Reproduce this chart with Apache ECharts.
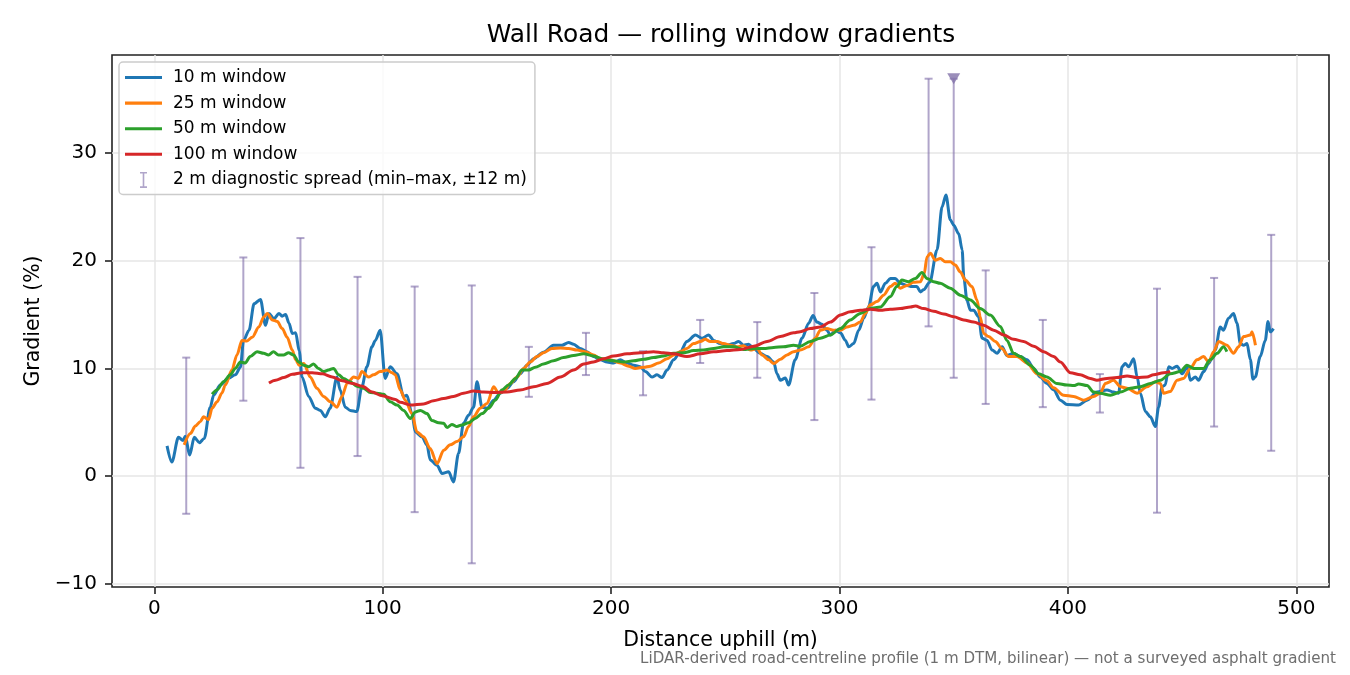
<!DOCTYPE html>
<html>
<head>
<meta charset="utf-8">
<script src="https://cdn.jsdelivr.net/npm/echarts@6/dist/echarts.min.js"></script>
<style>
html,body{margin:0;padding:0;background:#fff;}
#chart{width:1350px;height:675px;}
</style>
</head>
<body>
<div id="chart"></div>
<script>
// ---- data (distance m, gradient %) ----
const win10 = [[5.6,2.8],[7.7,1.3],[10.6,3.6],[12.6,3.3],[13.6,3.7],[15.5,1.95],[17.5,3.6],[19.8,3.1],[21.9,3.5],[24.5,6.4],[26,7.5],[28.9,8.45],[32.5,9.1],[35.5,9.4],[37.7,10.1],[39.1,12.6],[41.5,13.55],[43.7,16.0],[46.5,16.4],[48.7,14.0],[50.2,15.1],[52.4,14.6],[54.6,15.1],[56,14.85],[57.5,15.0],[59,14.2],[60.4,13.25],[61.9,13.3],[63.5,11.6],[64.7,9.2],[67.6,7.4],[70.5,6.3],[72.7,6.1],[74.9,5.5],[77,6.3],[80,9.2],[81.4,8.0],[83.6,6.4],[85.8,6.1],[88.7,6.0],[90.9,8.3],[93.1,10.15],[95.3,12.0],[96.8,12.6],[98.9,13.55],[101.1,9.07],[103.3,10.15],[106.3,9.5],[109.2,7.4],[110.6,7.5],[112.8,5.8],[114.3,4.1],[117.2,3.65],[119.4,2.9],[120.8,1.5],[123.8,1.0],[126,0.25],[128.9,0.4],[131,-0.55],[133.2,2.1],[135.4,4.9],[137.6,5.65],[139.8,6.4],[141.3,8.75],[143.5,6.4],[145.7,6.3],[148.6,7.05],[151.5,7.7],[154.4,8.15],[157.3,8.75],[160.2,9.5],[163.2,10.3],[166.1,10.9],[170.4,11.5],[174.8,12.15],[178.5,12.15],[181.4,12.4],[183.6,12.25],[186.5,11.85],[189.4,11.55],[192.3,11.1],[195.3,10.8],[198.2,10.6],[201.1,10.5],[204,10.8],[207,10.5],[209.9,10.3],[212.8,10.15],[215,9.7],[217.9,9.2],[220.1,9.4],[222.3,9.15],[224.5,9.85],[227.4,10.8],[230.3,11.55],[233.2,12.5],[236.9,13.1],[239.8,12.8],[242.7,13.1],[244.9,12.6],[247.8,12.3],[250.7,12.15],[253.6,12.3],[255.8,12.5],[258,12.15],[260.2,12.25],[262.4,11.85],[265.3,11.4],[268.3,11.1],[271.2,10.6],[272.6,9.5],[274.1,8.9],[276.3,9.1],[277.7,8.45],[280.6,10.8],[283.6,12.8],[286.5,14.2],[288.4,14.9],[290.1,14.3],[292.3,14.1],[294.5,13.55],[296,13.1],[298.2,13.55],[300.4,13.3],[302.6,12.6],[304,12.0],[306.2,12.3],[308.4,13.55],[310.6,14.65],[312.7,15.7],[314.9,17.6],[316.4,17.9],[317.9,17.1],[320.1,17.9],[322.3,18.35],[324.4,18.35],[326.6,17.9],[329.6,17.7],[331.7,17.6],[333.9,17.6],[335.4,17.1],[336.8,17.3],[339.5,18.0],[342.7,21.0],[344.9,25.0],[346.6,26.1],[348.5,23.8],[350,23.3],[352.2,22.5],[353.7,21.0],[354.4,18.5],[355.8,16.3],[357.3,15.4],[358.7,15.4],[360.9,14.8],[362.4,12.8],[364.6,12.6],[366.8,11.7],[369,11.4],[371.2,12.0],[373.3,11.2],[376.2,11.4],[379.2,11.1],[382.1,10.8],[385,10.0],[387.9,9.2],[390.8,8.6],[393.8,8.0],[396.7,7.05],[399.6,6.65],[404.7,6.6],[408.4,7.05],[412.7,7.8],[417.1,8.0],[420,7.8],[422.2,7.7],[423.7,10.15],[425.1,10.45],[426.6,10.15],[428.8,10.9],[430.3,9.2],[431.7,7.7],[433.9,6.0],[436.1,5.5],[438.3,4.6],[439.7,6.4],[441.2,8.3],[442.6,8.45],[444.1,10.15],[445.6,10.0],[447.8,10.2],[450,9.5],[452.2,10.15],[453.6,8.9],[455.8,9.2],[457.2,8.9],[459.4,9.7],[461.6,10.45],[464.5,11.7],[466.7,13.85],[468.1,13.55],[470.3,14.65],[472.5,15.1],[474,14.2],[475.5,12.3],[476.9,12.15],[478.4,12.3],[479.9,10.8],[481,9.0],[482,9.2],[484.2,11.1],[486.4,12.6],[487.6,14.35],[488.6,13.4],[490,13.7]];

const win25 = [[13.1,2.9],[15.8,3.95],[18.0,4.65],[20.1,5.05],[21.6,5.5],[23.8,5.25],[25.3,6.3],[27.5,6.9],[29.6,7.7],[31.1,8.45],[34.0,9.85],[36.2,11.25],[38.4,12.6],[40.6,12.55],[42.9,12.9],[45.8,13.85],[48.0,14.8],[49.5,15.1],[51.7,14.5],[53.9,14.35],[56.0,13.7],[58.2,12.9],[60.4,11.7],[61.9,10.8],[63.4,10.3],[65.5,10.45],[68.3,9.2],[71.2,8.15],[74.1,7.4],[77.1,6.9],[80.0,6.4],[82.2,7.4],[84.4,8.6],[87.3,9.2],[89.4,9.07],[90.9,9.7],[93.8,9.2],[96.0,9.4],[98.9,9.7],[101.9,9.85],[104.1,9.6],[105.5,9.4],[107.7,8.0],[109.9,7.05],[112.8,5.8],[115.0,4.1],[117.9,3.65],[120.8,2.55],[123.8,1.15],[126.7,2.4],[129.6,2.9],[132.5,3.2],[135.4,3.65],[137.6,4.6],[139.8,5.5],[142.7,6.3],[145.7,6.75],[148.6,8.3],[150.7,7.7],[152.9,7.85],[155.9,8.6],[158.8,9.2],[161.7,10.0],[164.6,10.6],[167.6,11.1],[170.4,11.45],[174.1,11.85],[177.8,11.9],[181.4,11.85],[185.1,11.7],[188.7,11.55],[192.3,11.25],[195.3,10.9],[199.6,10.8],[204.0,10.5],[207.7,10.2],[210.6,10.0],[214.2,10.1],[217.2,10.2],[220.8,10.5],[224.5,10.9],[227.4,11.25],[230.3,11.55],[233.2,11.85],[236.1,12.3],[239.1,12.5],[241.2,12.7],[243.4,12.5],[246.4,12.5],[249.3,12.3],[252.2,12.15],[255.1,12.0],[258.0,12.1],[261.0,11.7],[263.9,11.85],[266.1,11.25],[269.0,10.8],[271.2,10.45],[274.1,10.85],[277.0,11.25],[279.9,11.55],[282.8,11.7],[286.5,12.0],[289.4,12.8],[291.6,13.55],[294.5,13.7],[297.4,13.55],[300.4,13.55],[303.3,13.85],[306.2,14.0],[309.1,14.3],[311.3,15.1],[313.5,15.9],[316.4,16.2],[319.3,16.8],[322.3,17.6],[324.4,17.9],[326.6,17.45],[329.6,17.7],[332.4,18.0],[335.4,18.05],[337.1,18.8],[338.3,20.35],[339.8,20.7],[341.9,20.05],[344.1,20.2],[346.3,19.9],[348.5,19.9],[350.7,19.6],[352.9,18.95],[355.1,18.2],[358.0,17.6],[360.2,16.35],[361.6,14.8],[363.1,13.25],[365.3,12.95],[368.2,12.5],[371.1,11.85],[374.0,11.1],[377.7,11.1],[382.1,10.5],[386.5,9.5],[390.8,8.85],[393.7,8.2],[398.1,7.5],[402.5,7.4],[406.9,7.05],[411.3,7.4],[414.2,7.7],[416.4,8.6],[420.0,8.9],[423.0,8.3],[425.9,8.15],[430.3,7.7],[434.6,8.3],[438.3,8.75],[440.5,8.6],[441.9,7.7],[444.8,7.85],[447.8,8.9],[450.6,9.07],[453.6,10.0],[456.5,10.8],[459.4,11.1],[461.6,10.6],[463.8,11.55],[466.0,12.5],[469.6,12.15],[472.5,11.4],[474.7,12.0],[476.9,12.95],[479.9,13.1],[480.6,13.4],[482.1,12.15]];

const win50 = [[25.3,7.6],[27.5,8.0],[30.3,8.75],[33.3,9.4],[35.5,10.0],[37.7,10.6],[39.8,10.5],[42,11.1],[45,11.55],[47.9,11.4],[50,11.25],[52.2,11.55],[54.4,11.25],[56.6,11.25],[58.8,11.45],[61,11.25],[63.2,10.6],[65.4,10.3],[67.6,10.15],[69.7,10.4],[71.9,10.0],[74.1,9.7],[76.3,9.85],[78.5,10.0],[80.7,9.4],[82.9,9.07],[85.8,8.75],[88.7,8.35],[91.6,8.15],[94.6,7.75],[97.5,7.7],[100.4,7.6],[103.3,6.9],[106.3,6.6],[109.2,6.1],[112.1,5.35],[114.3,5.95],[116.5,6.1],[119.4,5.8],[121.6,5.15],[124.5,4.95],[126.7,4.9],[128.2,4.5],[130.3,4.8],[132.5,4.6],[134.7,4.75],[137.6,4.95],[140.5,5.35],[143.5,5.8],[146.4,6.3],[149.3,7.05],[152.2,8.0],[155.1,8.45],[158.1,9.07],[161,9.85],[163.9,9.85],[166.8,10.1],[170.4,10.4],[174.8,10.7],[179.2,11.0],[183.6,11.2],[188,11.35],[192.3,11.15],[196.7,10.85],[201.1,10.7],[205.5,10.6],[209.9,10.7],[214.2,10.85],[218.6,11.0],[223,11.15],[227.4,11.4],[231.7,11.45],[236.1,11.65],[240.5,11.7],[244.9,11.85],[249.3,12.0],[253.6,12.0],[258,11.75],[262.4,11.85],[266.8,11.85],[271.2,11.95],[275.5,12.0],[279.9,12.15],[282.8,12.05],[287.2,12.5],[291.6,12.8],[296,13.1],[300.4,13.7],[304.7,14.5],[309.1,15.1],[313.5,15.55],[317.9,15.7],[322.2,16.65],[325.1,17.6],[327.3,18.2],[330.2,18.05],[333.2,18.35],[336.1,18.9],[338.3,18.35],[341.2,18.05],[344.1,17.9],[348.5,17.45],[352.9,16.8],[357.3,16.35],[361.6,15.55],[366,14.95],[370.4,13.9],[373.3,12.6],[376.2,11.4],[379.2,11.1],[383.5,10.3],[387.2,9.5],[390.8,9.2],[395.2,8.6],[399.6,8.45],[402.6,8.4],[404.7,8.55],[408.4,8.4],[411.3,7.8],[414.2,7.7],[418.6,7.5],[423,7.8],[427.3,8.15],[431.7,8.3],[436.1,8.6],[440.5,8.9],[444.8,9.5],[449.2,9.7],[452.1,10.3],[455,10.0],[459.4,10.0],[462.3,10.8],[465.3,11.4],[468.1,12.0],[469.6,11.55]];

const win100 = [[50.2,8.65],[53.1,8.9],[56.8,9.15],[60.4,9.45],[64.8,9.6],[69.2,9.6],[73.6,9.5],[77.9,9.2],[82.3,8.85],[86.7,8.6],[91.1,8.35],[95.4,7.8],[99.8,7.45],[105.6,7.1],[107.7,6.85],[112.1,6.6],[117.9,6.7],[122.3,7.0],[126.7,7.2],[131,7.4],[135.4,7.7],[139.8,7.9],[144.2,7.8],[148.6,7.75],[154.4,7.8],[160.2,8.0],[166.1,8.3],[171.9,8.6],[177.8,9.2],[183.6,9.85],[188,10.4],[192.3,10.6],[196.7,10.9],[201.1,11.15],[207,11.35],[212.8,11.45],[218.6,11.55],[223,11.45],[227.4,11.35],[233.2,11.1],[239.1,11.35],[244.9,11.55],[250.7,11.65],[256.6,11.75],[262.4,12.05],[268.3,12.5],[274.1,12.95],[279.9,13.3],[282.8,13.4],[287.2,13.7],[291.6,13.85],[296,14.3],[300.4,14.95],[304.7,15.25],[309.1,15.4],[313.5,15.5],[317.9,15.4],[322.2,15.5],[326.6,15.55],[331,15.7],[333.2,15.8],[336.8,15.55],[341.2,15.3],[345.6,15.05],[350,14.8],[354.4,14.5],[358.7,14.3],[363.1,14.0],[367.5,13.55],[371.9,13.1],[376.2,12.7],[380.6,12.5],[385,12.05],[389.4,11.55],[393.7,11.1],[396.7,10.6],[401.1,9.6],[405.4,9.4],[409.8,9.07],[412.7,8.9],[417.1,9.07],[421.5,9.15],[425.9,9.3],[430.3,9.15],[434.6,9.2],[437.5,9.4],[441.9,9.6],[444.8,9.7]];

// 2 m diagnostic spread (min–max within ±12 m)
const spreadX  = [14,39,64,89,114,139,164,189,214,239,264,289,314,339,350,364,389,414,439,464,489];
const spreadLo = [-3.5,7.0,0.77,1.86,-3.35,-8.1,7.36,9.38,7.5,10.5,9.13,5.2,7.1,13.9,9.13,6.7,6.4,5.9,-3.4,4.6,2.35];
const spreadHi = [11.0,20.3,22.1,18.5,17.6,17.7,12.0,13.3,11.6,14.5,14.3,17.0,21.25,36.9,36.9,19.1,14.5,9.47,17.4,18.4,22.4];

// peak marker
const peakX = [350];
const peakY = [36.9];

const xTicks = [0,100,200,300,400,500];
const yTicks = [-10,0,10,20,30];

const seriesNames = ['10 m window','25 m window','50 m window','100 m window','2 m diagnostic spread (min\u2013max, \u00b112 m)'];
const colors = ['#1f77b4','#ff7f0e','#2ca02c','#d62728'];
const spreadColor = 'rgba(128,110,170,0.62)';
const FONT = '"DejaVu Sans", sans-serif';

const chart = echarts.init(document.getElementById('chart'), null, {renderer:'canvas'});

const lineSeries = [win10, win25, win50, win100].map((d, i) => ({
  name: seriesNames[i],
  type: 'line',
  data: d,
  symbol: 'none',
  showSymbol: false,
  smooth: 0.3,
  smoothMonotone: 'x',
  lineStyle: {color: colors[i], width: 3},
  itemStyle: {color: colors[i]},
  z: 3 + i,
  animation: false
}));

const spreadData = spreadX.map((x, i) => [x, spreadLo[i], spreadHi[i]]);
const lineIcon = 'path://M0,0H40V3.4H0Z';

const option = {
  animation: false,
  backgroundColor: '#fff',
  textStyle: {fontFamily: FONT},
  title: {
    text: 'Wall Road \u2014 rolling window gradients',
    left: 716, top: 18, textAlign: 'center',
    textStyle: {fontFamily: FONT, fontSize: 24.9, fontWeight: 'normal', color: '#000'}
  },
  grid: {
    left: 112, top: 55, width: 1217, height: 532,
    show: true, borderColor: '#222', borderWidth: 1.6, backgroundColor: 'transparent'
  },
  legend: {
    orient: 'vertical', left: 119, top: 62,
    padding: [7, 8, 6, 6],
    itemWidth: 37, itemHeight: 16, itemGap: 8.6,
    selectedMode: false,
    backgroundColor: 'rgba(255,255,255,0.8)',
    borderColor: '#cccccc', borderWidth: 1.5, borderRadius: 4,
    textStyle: {fontFamily: FONT, fontSize: 17, color: '#000', lineHeight: 16, padding: [0,0,0,6]},
    data: [
      {name: seriesNames[0], icon: lineIcon}, {name: seriesNames[1], icon: lineIcon},
      {name: seriesNames[2], icon: lineIcon}, {name: seriesNames[3], icon: lineIcon},
      {name: seriesNames[4], icon: 'path://M0,0H7V1.6H4.3V14.4H7V16H0V14.4H2.7V1.6H0Z', itemStyle: {color: spreadColor}}
    ]
  },
  xAxis: {
    type: 'value', min: -18.5, max: 514.3,
    name: 'Distance uphill (m)', nameLocation: 'middle', nameGap: 43,
    nameTextStyle: {fontFamily: FONT, fontSize: 20.5, color: '#000'},
    axisLine: {show: false, onZero: false},
    axisTick: {show: true, customValues: xTicks, length: 7, lineStyle: {color: '#222', width: 1.6}},
    axisLabel: {customValues: xTicks, fontFamily: FONT, fontSize: 20, color: '#000', margin: 12},
    splitLine: {show: true, lineStyle: {color: '#e6e6e6', width: 1.5}}
  },
  yAxis: {
    type: 'value', min: -10.3, max: 39.1,
    name: 'Gradient (%)', nameLocation: 'middle', nameGap: 68, nameRotate: 90,
    nameTextStyle: {fontFamily: FONT, fontSize: 20.5, color: '#000'},
    axisLine: {show: false, onZero: false},
    axisTick: {show: true, customValues: yTicks, length: 7, lineStyle: {color: '#222', width: 1.6}},
    axisLabel: {customValues: yTicks, fontFamily: FONT, fontSize: 20, color: '#000', margin: 15,
      formatter: v => (v < 0 ? '\u2212' + Math.abs(v) : String(v))},
    splitLine: {show: true, lineStyle: {color: '#e6e6e6', width: 1.5}}
  },
  series: [
    {
      name: seriesNames[4],
      type: 'custom',
      data: spreadData,
      encode: {x: 0, y: [1, 2]},
      z: 2,
      itemStyle: {color: spreadColor},
      renderItem: function (params, api) {
        const x = api.value(0), lo = api.value(1), hi = api.value(2);
        const p0 = api.coord([x, lo]);
        const p1 = api.coord([x, hi]);
        const c = 4;
        const st = {stroke: spreadColor, lineWidth: 2};
        return {type: 'group', children: [
          {type: 'line', shape: {x1: p0[0], y1: p0[1], x2: p1[0], y2: p1[1]}, style: st},
          {type: 'line', shape: {x1: p0[0]-c, y1: p0[1], x2: p0[0]+c, y2: p0[1]}, style: st},
          {type: 'line', shape: {x1: p1[0]-c, y1: p1[1], x2: p1[0]+c, y2: p1[1]}, style: st}
        ]};
      }
    },
    ...lineSeries,
    {
      name: 'peak',
      type: 'scatter',
      data: peakX.map((x, i) => [x, peakY[i]]),
      symbol: 'path://M0,0L20,0L10,17Z',
      symbolSize: [13, 11],
      itemStyle: {color: '#8272a9'},
      z: 10
    }
  ],
  graphic: [{
    type: 'text', right: 14, top: 652,
    style: {text: 'LiDAR-derived road-centreline profile (1 m DTM, bilinear) \u2014 not a surveyed asphalt gradient',
      font: '15.1px "DejaVu Sans", sans-serif', fill: '#6e6e6e'}
  }]
};
chart.setOption(option);
</script>
</body>
</html>
